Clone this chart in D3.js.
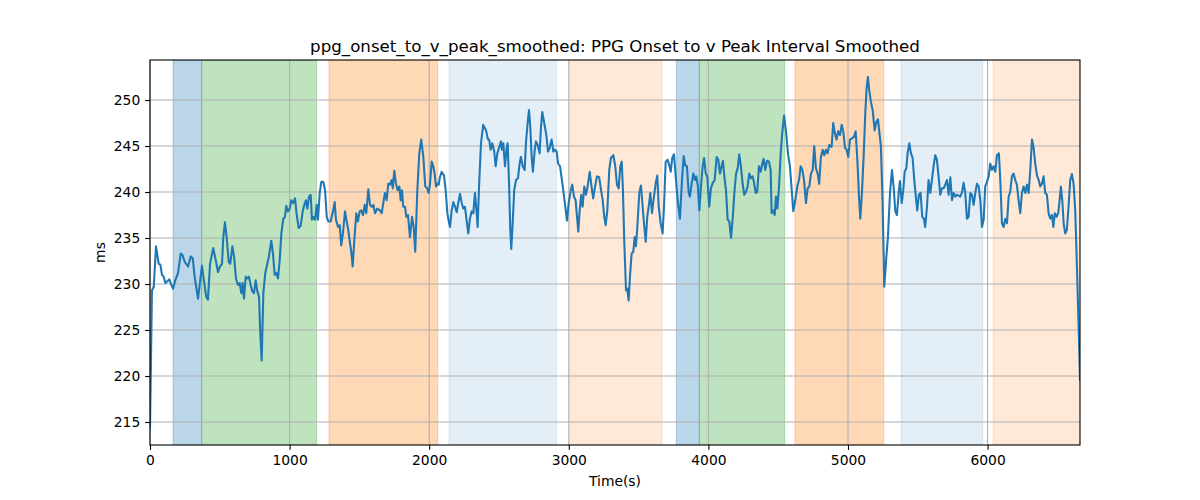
<!DOCTYPE html>
<html>
<head>
<meta charset="utf-8">
<script src="https://cdn.jsdelivr.net/npm/d3@7"></script>
<style>
  html, body { margin: 0; padding: 0; background: #fff; }
  svg { display: block; font-family: "DejaVu Sans", sans-serif; }
</style>
</head>
<body>
<svg id="chart" width="1200" height="500"></svg>
<script>
const titleText = "ppg_onset_to_v_peak_smoothed: PPG Onset to v Peak Interval Smoothed";
const xLabel = "Time(s)";
const yLabel = "ms";

const xTicks = [0, 1000, 2000, 3000, 4000, 5000, 6000];
const yTicks = [215, 220, 225, 230, 235, 240, 245, 250];

const bandStart = [165, 370, 1282, 2142, 3004, 3770, 3935, 4620, 5380, 6039];
const bandEnd   = [370, 1194, 2061, 2913, 3668, 3935, 4547, 5256, 5965, 6662];
const bandKind  = ["blue", "green", "orange", "lightblue", "lightorange",
                   "blue", "green", "orange", "lightblue", "lightorange"];

const times = [
0,14,27,43,62,74,86,98,110,124,138,153,165,181,201,220,231,249,272,292,
306,320,344,360,372,387,403,415,430,453,471,487,501,516,525,537,549,564,575,590,
602,616,630,643,654,664,673,686,697,709,721,733,745,757,769,781,790,800,812,826,
836,852,869,881,893,905,917,929,941,955,967,976,988,1001,1012,1024,1039,1051,1065,1079,
1094,1105,1117,1127,1139,1151,1160,1170,1182,1194,1203,1216,1227,1241,1254,1266,1277,1294,1311,1323,
1332,1347,1359,1370,1382,1397,1409,1420,1433,1442,1452,1466,1478,1490,1502,1513,1526,1538,1549,1564,
1576,1588,1600,1612,1628,1647,
1660,1671,1683,1695,1707,1719,1731,1739,1750,1762,1774,1786,1796,1805,1814,1827,1836,1848,1862,1877,
1889,1900,1915,1929,1943,1958,1972,1986,1996,2006,2018,2029,2039,2049,2058,2068,2077,2089,2106,2118,
2130,2140,2149,2161,2173,2185,2197,2208,2221,2233,2244,2256,2269,2280,2292,2304,2316,2328,2340,2347,
2357,2371,2387,2407,2421,2430,2440,2452,2466,2476,2488,
2502,2514,2521,2531,2543,2555,2562,2572,2581,2588,2598,2609,2622,2636,2648,2657,2670,2684,2693,2705,
2715,2724,2734,2743,2756,2765,2777,2791,2801,2810,2824,2839,2851,2863,2877,2889,2901,2913,2923,2937,
2951,2966,2978,2987,2999,3014,3025,3037,3049,3059,3068,3078,3089,3099,3111,3123,3135,3150,3161,3175,
3188,3202,3218,3231,3243,3254,3264,3276,3290,3302,3319,
3333,3345,3357,3369,3379,3388,3397,3410,3419,3429,3438,3450,3462,3472,3481,3491,3505,3517,3529,3541,
3551,3562,3574,3584,3596,3610,3622,3634,3644,3658,3672,3682,3694,3708,3720,3730,3741,3753,3766,3780,
3796,3811,3823,3834,3846,3859,3868,3880,3892,3904,3913,3925,3935,3947,3959,3969,3981,3992,4006,4018,
4031,4045,4059,4071,4083,4092,4104,4117,4126,4138,4150,4162,4174,4186,4198,4210,4221,4233,4245,4257,
4269,4281,4293,4305,4317,4326,4339,4350,4362,4375,4386,4396,4407,4420,4434,4446,4453,4465,4475,4484,
4494,4506,4518,4529,4542,4556,4570,4584,4597,4608,4622,4637,4649,4661,4673,4685,4699,4711,4723,4735,
4747,4758,4770,4783,4794,4806,4819,4830,4842,4854,4866,
4883,4894,4906,4918,4930,4943,4955,4966,4979,4990,5002,5014,5026,5043,5055,5067,5079,5088,5100,5113,
5124,5134,5143,5152,5164,5177,5191,5203,5215,5224,5236,5248,5260,5273,5286,5301,5315,5327,5339,5351,
5363,5372,5385,5396,5406,5418,5427,5439,5451,5463,5475,5486,5496,5508,5520,5532,5544,5553,5566,5577,
5589,5601,5613,5625,5637,5649,5661,5673,5685,5697,5709,5721,5733,5745,5757,5769,5781,5793,5804,5816,
5828,5840,5852,5864,5876,5888,5900,5912,5924,5936,5948,5960,5972,5983,5995,6008,6019,6031,6043,6055,
6067,6081,6091,6103,6115,6127,6139,6151,6162,6174,6186,6198,6210,6222,6234,6246,6258,6270,6282,6294,
6306,6318,6330,6341,6354,6366,6377,6389,6401,6413,6425,6437,6449,6461,6471,6482,6494,6506,6516,6525,
6535,6545,6556,6568,6580,6592,6604,6616,6628,6640,6652,6662
];

const values = [
214.4,229.3,229.7,234.1,232.2,232.1,231.0,230.8,230.1,230.3,230.5,229.9,229.5,230.4,231.2,233.3,233.2,232.4,231.9,233.0,
232.8,230.8,228.4,230.4,232.0,230.3,228.6,228.3,232.2,233.9,232.6,231.3,231.9,232.2,235.1,236.7,235.1,232.4,232.2,234.1,
233.0,230.6,229.9,230.1,229.0,230.1,228.4,230.8,230.6,230.8,229.9,229.2,229.0,230.4,229.2,228.6,224.6,221.7,229.0,231.2,
231.9,233.0,234.7,233.3,231.0,231.2,230.6,232.6,235.5,237.1,237.3,238.5,237.9,238.2,239.1,238.8,239.3,237.5,236.1,236.3,
237.9,238.6,239.1,238.2,239.5,239.7,237.0,237.3,237.0,238.6,237.0,239.9,241.1,241.1,240.2,237.3,236.8,236.8,237.9,238.9,
237.0,236.2,236.4,234.2,235.5,237.9,236.8,235.9,234.4,233.5,231.9,235.3,237.7,236.8,237.9,238.0,237.5,238.6,237.7,240.3,
238.6,238.4,238.6,237.7,238.2,238.0,
237.7,238.8,239.9,239.1,240.9,240.8,241.3,240.4,242.3,240.9,240.2,240.6,239.1,240.2,238.4,238.4,237.3,237.5,235.1,237.3,
236.2,233.5,240.2,244.2,245.7,243.8,240.6,240.4,239.9,240.9,243.3,242.8,242.0,240.6,240.9,240.8,241.6,242.2,241.8,240.2,
237.7,236.8,236.2,238.0,238.9,238.4,237.8,238.8,239.8,238.8,238.2,238.4,236.8,235.5,237.1,237.9,237.7,239.9,237.7,236.2,
240.6,245.3,247.3,246.7,245.7,245.7,244.6,245.3,244.4,242.8,244.2,
244.9,245.5,244.6,245.3,242.8,244.8,245.3,240.9,235.9,233.8,236.6,240.2,241.3,241.5,243.1,243.8,242.8,242.4,245.3,247.5,
248.9,247.1,243.8,242.2,244.6,245.5,245.1,244.2,247.1,248.7,247.5,246.2,244.4,244.8,245.7,244.4,244.6,244.4,243.1,242.8,
241.3,239.5,238.0,236.9,238.8,240.2,240.8,239.5,239.1,237.3,235.7,238.0,239.7,238.4,240.6,239.7,240.6,242.2,240.8,239.3,
240.6,241.7,241.6,240.2,239.1,237.3,236.4,238.0,242.4,243.7,244.0,
242.8,240.8,240.4,242.8,243.3,240.2,234.8,229.3,229.5,228.2,230.8,233.3,233.5,235.1,234.1,236.2,239.9,240.7,238.4,236.2,
234.6,237.3,238.6,239.9,237.7,239.5,240.9,241.8,238.4,236.6,235.5,238.4,243.3,243.5,242.9,242.2,243.7,244.1,241.7,239.1,
237.1,241.3,243.9,242.9,242.8,239.9,239.5,240.9,242.0,241.3,241.7,240.6,238.0,240.6,242.8,243.7,242.0,241.7,238.4,240.4,
241.0,241.3,243.8,243.5,242.0,242.6,243.4,241.3,240.2,237.0,236.8,235.0,237.1,239.9,242.0,242.6,244.1,242.8,240.9,239.7,
240.0,240.6,242.0,241.5,241.7,241.1,239.9,240.0,242.8,242.2,243.1,243.6,242.4,243.4,243.3,242.4,237.7,238.0,237.5,239.5,
238.2,240.6,244.2,246.4,248.3,246.6,244.2,242.8,240.2,237.9,239.1,240.6,241.3,242.8,242.4,241.3,238.8,240.4,240.6,242.0,
242.4,245.0,242.6,242.0,240.9,243.8,244.6,244.0,244.6,244.2,245.1,
244.9,247.5,246.4,245.7,246.6,246.2,247.3,246.6,244.8,244.6,243.8,245.7,245.8,246.0,246.6,243.5,239.5,237.1,239.9,244.2,
248.6,251.4,252.5,251.1,249.8,248.9,246.7,247.6,247.9,246.6,244.9,238.8,229.7,232.6,235.1,239.9,242.4,240.6,237.9,237.5,
239.9,241.2,238.8,240.2,242.2,242.6,244.2,245.3,244.2,243.7,241.3,239.5,238.0,239.7,239.9,237.3,237.1,236.2,238.4,241.3,
239.9,241.3,242.8,244.0,243.5,241.7,239.7,240.4,240.4,240.8,241.3,239.7,241.6,239.1,239.9,239.5,239.7,239.6,239.5,239.9,
241.0,239.9,237.1,237.3,239.9,239.7,238.6,239.9,240.9,240.6,239.1,236.2,237.0,240.6,241.1,241.7,243.1,242.4,242.8,242.2,
244.0,244.2,241.3,236.6,236.2,237.1,236.6,239.5,240.0,241.7,242.0,241.3,240.8,239.1,237.7,239.9,240.6,239.9,240.8,239.9,
242.4,245.7,244.8,243.1,241.8,241.3,240.6,240.9,241.7,239.9,239.7,237.7,237.1,237.5,236.2,237.7,237.3,237.7,239.1,240.6,
239.1,236.6,235.5,235.9,238.4,241.3,241.95,240.9,238.0,231.9,225.4,219.6
];

// ---------- drawing ----------
const W = 1200, H = 500;
const margin = { left: 150, right: 120, top: 60, bottom: 55 };
const plotW = W - margin.left - margin.right;
const plotH = H - margin.top - margin.bottom;

const bandColor = {
  blue:        { fill: "#1f77b4", op: 0.3 },
  green:       { fill: "#2ca02c", op: 0.3 },
  orange:      { fill: "#ff7f0e", op: 0.3 },
  lightblue:   { fill: "#1f77b4", op: 0.12 },
  lightorange: { fill: "#ff7f0e", op: 0.17 }
};

const svg = d3.select("#chart");
svg.append("rect").attr("width", W).attr("height", H).attr("fill", "#fff");

const x = d3.scaleLinear().domain([0, 6662]).range([0, plotW]);
const y = d3.scaleLinear().domain([212.5, 254.35]).range([plotH, 0]);

const g = svg.append("g").attr("transform", `translate(${margin.left},${margin.top})`);

svg.append("defs").append("clipPath").attr("id", "clip")
  .append("rect").attr("width", plotW).attr("height", plotH);

// bands
const bands = bandStart.map((s, i) => ({ s, e: bandEnd[i], k: bandKind[i] }));
g.append("g").attr("clip-path", "url(#clip)")
  .selectAll("rect").data(bands).join("rect")
  .attr("x", d => x(d.s))
  .attr("width", d => x(d.e) - x(d.s))
  .attr("y", 0).attr("height", plotH)
  .attr("fill", d => bandColor[d.k].fill)
  .attr("fill-opacity", d => bandColor[d.k].op)
  .attr("stroke", d => bandColor[d.k].fill)
  .attr("stroke-opacity", d => bandColor[d.k].op)
  .attr("stroke-width", 1);

// grid
const grid = g.append("g");
grid.selectAll("line.gx").data(xTicks).join("line")
  .attr("x1", d => x(d)).attr("x2", d => x(d))
  .attr("y1", 0).attr("y2", plotH)
  .attr("stroke", "#b0b0b0").attr("stroke-width", 1.1);
grid.selectAll("line.gy").data(yTicks).join("line")
  .attr("x1", 0).attr("x2", plotW)
  .attr("y1", d => y(d)).attr("y2", d => y(d))
  .attr("stroke", "#b0b0b0").attr("stroke-width", 1.1);

// line
const pts = times.map((t, i) => [t, values[i]]);
g.append("path")
  .attr("clip-path", "url(#clip)")
  .datum(pts)
  .attr("fill", "none")
  .attr("stroke", "#1f77b4")
  .attr("stroke-width", 2.08)
  .attr("stroke-linejoin", "round")
  .attr("stroke-linecap", "square")
  .attr("d", d3.line().x(d => x(d[0])).y(d => y(d[1])));

// axes
const tickLen = 4.86, tickPad = 4.86, fs = 13.89;
const xAxis = g.append("g").attr("transform", `translate(0,${plotH})`)
  .call(d3.axisBottom(x).tickValues(xTicks).tickFormat(d3.format("d"))
    .tickSize(tickLen).tickPadding(tickPad));
const yAxis = g.append("g")
  .call(d3.axisLeft(y).tickValues(yTicks).tickFormat(d3.format("d"))
    .tickSize(tickLen).tickPadding(tickPad));
[xAxis, yAxis].forEach(a => {
  a.select(".domain").remove();
  a.selectAll(".tick line").attr("stroke", "#000").attr("stroke-width", 1.1);
  a.selectAll(".tick text").attr("fill", "#000")
    .style("font-family", "'DejaVu Sans', sans-serif").style("font-size", fs + "px");
});

// spines
g.append("rect").attr("x", 0).attr("y", 0).attr("width", plotW).attr("height", plotH)
  .attr("fill", "none").attr("stroke", "#000").attr("stroke-width", 1.1);

// labels
svg.append("text").attr("x", margin.left + plotW / 2).attr("y", 51.7)
  .attr("text-anchor", "middle").style("font-size", "16.67px").attr("fill", "#000")
  .text(titleText);
svg.append("text").attr("x", margin.left + plotW / 2).attr("y", 486)
  .attr("text-anchor", "middle").style("font-size", fs + "px").attr("fill", "#000")
  .text(xLabel);
svg.append("text")
  .attr("transform", `translate(105,${margin.top + plotH / 2}) rotate(-90)`)
  .attr("text-anchor", "middle").style("font-size", fs + "px").attr("fill", "#000")
  .text(yLabel);
</script>
</body>
</html>
